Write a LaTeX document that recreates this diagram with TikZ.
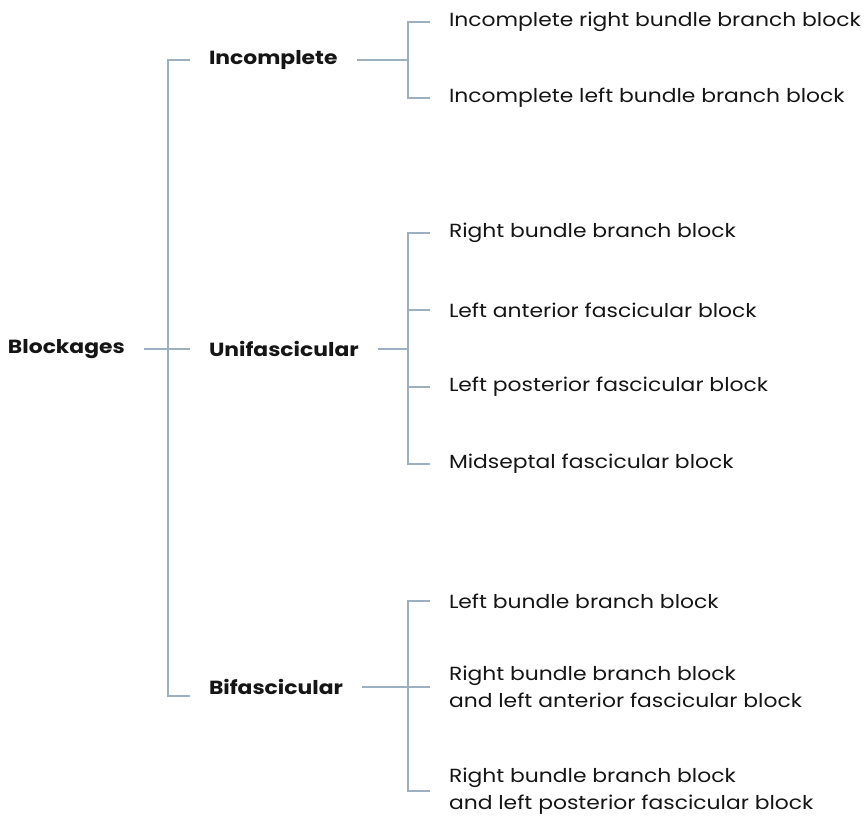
\documentclass[tikz,border=0pt]{standalone}
\usepackage{fontspec}
\setmainfont{Poppins}[FakeStretch=1.15]
\usetikzlibrary{positioning}
\definecolor{WireBlue}{HTML}{9CB0C2}
\definecolor{InkBlack}{HTML}{151515}

\begin{document}
\begin{tikzpicture}[x=1pt,y=-1pt,
    every node/.style={font=\fontsize{19}{27}\selectfont,text=InkBlack,inner sep=0pt,outer xsep=19pt,anchor=west,align=left},
    grp/.style={font=\fontsize{19}{27}\selectfont\bfseries},
    wire/.style={WireBlue,line width=1.2pt}]
        \useasboundingbox (0,0) rectangle (865,818);
        \node[grp] (blk) at (-11,349) {Blockages};
        \node[grp] (inc) at (190,60) {Incomplete};
        \node[grp] (uni) at (190,349) {Unifascicular};
        \node[grp] (bif) at (190,687) {Bifascicular};
        \node (inc1) at (430,22) {Incomplete right bundle branch block};
        \node (inc2) at (430,98) {Incomplete left bundle branch block};
        \node (uni1) at (430,233) {Right bundle branch block};
        \node (uni2) at (430,310) {Left anterior fascicular block};
        \node (uni3) at (430,387) {Left posterior fascicular block};
        \node (uni4) at (430,464) {Midseptal fascicular block};
        \node (bif1) at (430,601) {Left bundle branch block};
        \node (bif2) at (430,687) {Right bundle branch block\\and left anterior fascicular block};
        \node (bif3) at (430,791) {Right bundle branch block\\and left posterior fascicular block};
        \coordinate (trunk) at (168,349);
        \coordinate (rail) at (408,349);
        % left bracket
        \draw[wire] (blk.east) -- (uni.west);
        \draw[wire] (inc.west) -| (trunk) |- ([yshift=-9pt]bif.west);
        % right brackets
        \draw[wire] (inc.east) -- (inc.east -| rail);
        \draw[wire] (inc1.west) -- (inc1.west -| rail) -- (inc2.west -| rail) -- (inc2.west);
        \draw[wire] (uni.east) -- (uni.east -| rail);
        \draw[wire] (uni1.west) -- (uni1.west -| rail) -- (uni4.west -| rail) -- (uni4.west);
        \foreach \n in {uni2,uni3}
          \draw[wire] (\n.west) -- (\n.west -| rail);
        \draw[wire] (bif.east) -- (bif2.west);
        \draw[wire] (bif1.west) -- (bif1.west -| rail) -- (bif3.west -| rail) -- (bif3.west);
      \end{tikzpicture}
\end{document}
